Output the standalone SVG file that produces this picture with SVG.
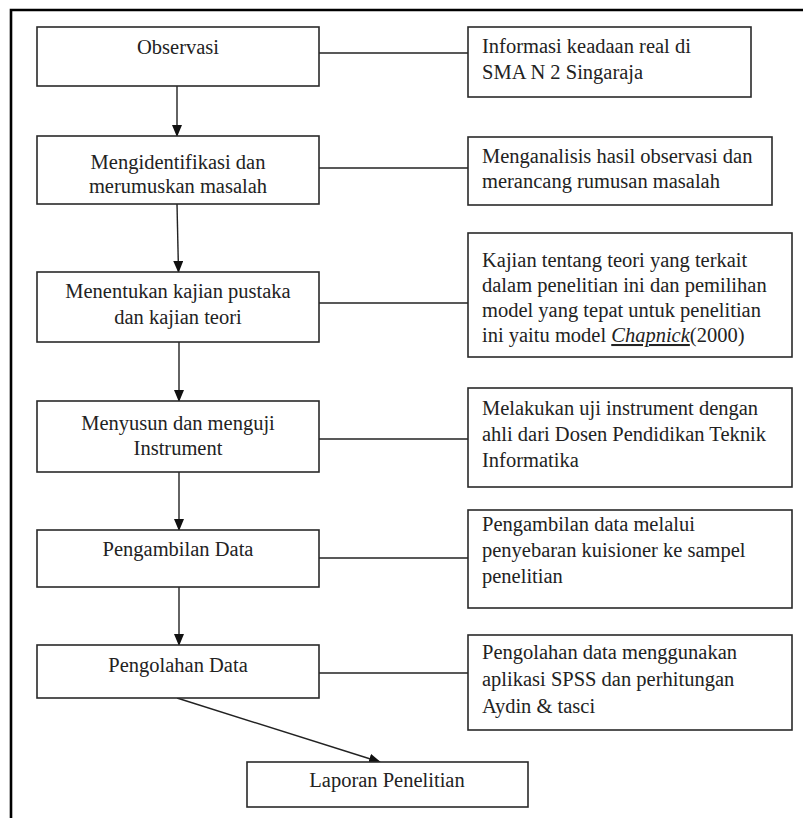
<svg xmlns="http://www.w3.org/2000/svg" width="803" height="818" viewBox="0 0 803 818">
<defs>
<style>
.box{fill:#fff;stroke:#2a2a2a;stroke-width:1.6}
.t{font-family:"Liberation Serif","Times New Roman",serif;font-size:20.5px;fill:#222}
.c{text-anchor:middle}
.ln{stroke:#222;stroke-width:1.4;fill:none}
</style>
<marker id="ah" markerUnits="userSpaceOnUse" markerWidth="10" markerHeight="12" viewBox="0 0 10 12" refX="5" refY="11" orient="auto-start-reverse">
<path d="M0,0 L10,0 L5,12 Z" fill="#111" transform="rotate(0)"/>
</marker>
<marker id="ahd" markerUnits="userSpaceOnUse" markerWidth="12" markerHeight="10" viewBox="0 0 12 10" refX="11" refY="5" orient="auto">
<path d="M0,0 L12,5 L0,10 Z" fill="#111"/>
</marker>
</defs>
<rect width="803" height="818" fill="#fff"/>
<g id="frame">
<path d="M11,818 L11,10 L803,10" fill="none" stroke="#000" stroke-width="2.6"/>
</g>
<g id="connectors">
<line class="ln" x1="177" y1="86" x2="177" y2="136" marker-end="url(#ahd)"/>
<line class="ln" x1="177" y1="204" x2="178.5" y2="272" marker-end="url(#ahd)"/>
<line class="ln" x1="179" y1="342" x2="179" y2="401" marker-end="url(#ahd)"/>
<line class="ln" x1="179" y1="472" x2="179" y2="530" stroke-width="2.2" marker-end="url(#ahd)"/>
<line class="ln" x1="179" y1="587" x2="179" y2="645" marker-end="url(#ahd)"/>
<line class="ln" x1="177" y1="698" x2="380" y2="762" marker-end="url(#ahd)"/>
<line class="ln" x1="319" y1="53" x2="468" y2="53"/>
<line class="ln" x1="319" y1="168" x2="468" y2="168"/>
<line class="ln" x1="319" y1="303" x2="468" y2="303"/>
<line class="ln" x1="319" y1="439" x2="468" y2="439"/>
<line class="ln" x1="319" y1="558" x2="468" y2="558"/>
<line class="ln" x1="319" y1="673" x2="468" y2="673"/>
</g>
<g id="observasi">
<rect class="box" x="37" y="27" width="282" height="59"/>
<text class="t c" x="178" y="54">Observasi</text>
</g>
<g id="mengidentifikasi">
<rect class="box" x="37" y="136" width="282" height="68"/>
<text class="t c" x="178" y="169">Mengidentifikasi dan</text>
<text class="t c" x="178" y="193">merumuskan masalah</text>
</g>
<g id="menentukan">
<rect class="box" x="37" y="272" width="282" height="70"/>
<text class="t c" x="178" y="298">Menentukan kajian pustaka</text>
<text class="t c" x="178" y="324">dan kajian teori</text>
</g>
<g id="menyusun">
<rect class="box" x="37" y="401" width="282" height="71"/>
<text class="t c" x="178" y="430">Menyusun dan menguji</text>
<text class="t c" x="178" y="455">Instrument</text>
</g>
<g id="pengambilan">
<rect class="box" x="37" y="530" width="282" height="57"/>
<text class="t c" x="178" y="556">Pengambilan Data</text>
</g>
<g id="pengolahan">
<rect class="box" x="37" y="645" width="282" height="53"/>
<text class="t c" x="178" y="672">Pengolahan Data</text>
</g>
<g id="laporan">
<rect class="box" x="247" y="762" width="281" height="45"/>
<text class="t c" x="387" y="787">Laporan Penelitian</text>
</g>
<g id="info-observasi">
<rect class="box" x="468" y="27" width="283" height="70"/>
<text class="t" x="482" y="53">Informasi keadaan real di</text>
<text class="t" x="482" y="79">SMA N 2 Singaraja</text>
</g>
<g id="info-masalah">
<rect class="box" x="468" y="137" width="304" height="68"/>
<text class="t" x="482" y="163">Menganalisis hasil observasi dan</text>
<text class="t" x="482" y="188">merancang rumusan masalah</text>
</g>
<g id="info-kajian">
<rect class="box" x="468" y="233" width="324" height="124"/>
<text class="t" x="482" y="267">Kajian tentang teori yang terkait</text>
<text class="t" x="482" y="292">dalam penelitian ini dan pemilihan</text>
<text class="t" x="482" y="317">model yang tepat untuk penelitian</text>
<text class="t" x="482" y="342">ini yaitu model <tspan font-style="italic" text-decoration="underline">Chapnick</tspan>(2000)</text>
</g>
<g id="info-instrument">
<rect class="box" x="468" y="388" width="324" height="99"/>
<text class="t" x="482" y="415">Melakukan uji instrument dengan</text>
<text class="t" x="482" y="441">ahli dari Dosen Pendidikan Teknik</text>
<text class="t" x="482" y="467">Informatika</text>
</g>
<g id="info-pengambilan">
<rect class="box" x="468" y="510" width="324" height="98"/>
<text class="t" x="482" y="531">Pengambilan data melalui</text>
<text class="t" x="482" y="557">penyebaran kuisioner ke sampel</text>
<text class="t" x="482" y="583">penelitian</text>
</g>
<g id="info-pengolahan">
<rect class="box" x="468" y="635" width="324" height="95"/>
<text class="t" x="482" y="659">Pengolahan data menggunakan</text>
<text class="t" x="482" y="686">aplikasi SPSS dan perhitungan</text>
<text class="t" x="482" y="713">Aydin &amp; tasci</text>
</g>
</svg>
